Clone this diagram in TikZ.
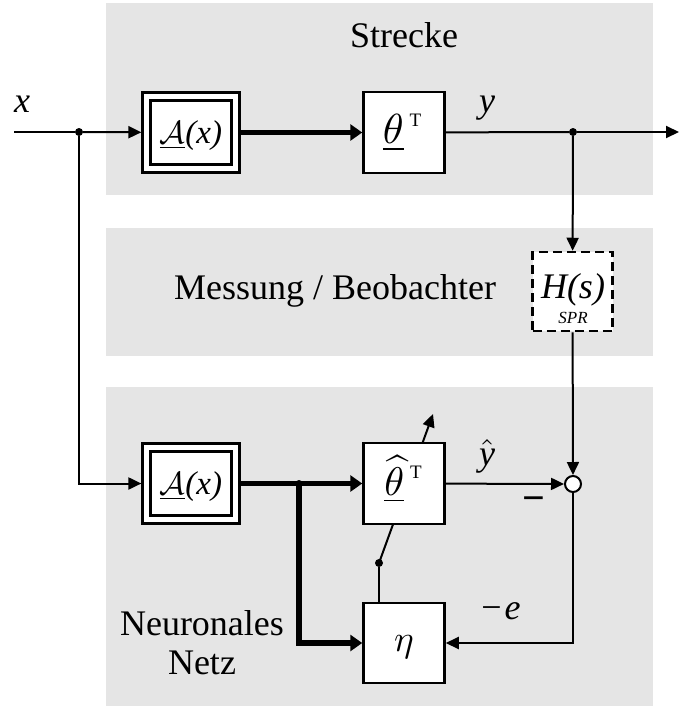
\documentclass[tikz,border=0pt]{standalone}
\usepackage{fontspec}
\setmainfont{Liberation Serif}
\usetikzlibrary{arrows.meta}
\definecolor{bandgray}{RGB}{229,229,229}
\newcommand{\fs}[1]{\fontsize{#1}{#1}\selectfont}
\newcommand{\mth}[2]{\scalebox{#1}{\fontsize{10}{10}\selectfont$#2$}}
\begin{document}
\begin{tikzpicture}[x=1pt,y=-1pt,
  band/.style={fill=bandgray, draw=none},
  blk/.style={draw, line width=2.5pt, fill=white, minimum width=81pt, minimum height=81pt, inner sep=0pt},
  outerblk/.style={draw, line width=2.2pt, fill=white, minimum width=97pt, minimum height=80pt, inner sep=0pt},
  innerblk/.style={draw, line width=3pt, fill=white, minimum width=81pt, minimum height=64pt, inner sep=0pt},
  dashblk/.style={draw, line width=2.5pt, dash pattern=on 9pt off 5pt, fill=white, minimum width=80pt, minimum height=79pt, inner sep=0pt},
  sig/.style={line width=2pt, -{Triangle[length=13pt,width=12pt]}},
  line/.style={line width=2pt},
  bus/.style={line width=5.5pt, -{Triangle[length=12pt,width=16pt]}},
  busline/.style={line width=5.5pt},
  lbl/.style={inner sep=0pt, font={\fs{36}}},
  txt/.style={inner sep=0pt},
  dot/.style={circle, fill=black, inner sep=0pt, minimum size=8pt},
  sumc/.style={circle, draw, line width=2pt, fill=white, inner sep=0pt, minimum size=16pt}
]
\useasboundingbox (0,0) rectangle (679,706);
% bands
\fill[band] (106,3) rectangle (653,195);
\fill[band] (106,228) rectangle (653,356);
\fill[band] (106,387) rectangle (653,706);

\node[lbl, anchor=base] (strecke) at (404,48) {Strecke};
\node[lbl, anchor=base] (messung) at (335,299) {Messung / Beobachter};
\node[inner sep=0pt, align=center, font={\fontsize{36}{39}\selectfont}] (nn) at (202,643) {Neuronales\\Netz};

% coordinates
\coordinate (xin) at (14,132);
\coordinate (yout) at (679,132);
\node[dot] (d1) at (79,132) {};
\node[dot] (d2) at (573,132) {};
\coordinate (c1) at (79,483.5);
\coordinate (j1) at (299,483.5);
\coordinate (c2) at (299,643);
\coordinate (c3) at (573,643);
\node[dot] (d3) at (379,563) {};
\coordinate (adapt) at (433,414);

% diagonal adaptation arrow (behind box)
\draw[sig] (d3.center) -- (adapt);

% blocks top
\node[outerblk] (A1) at (191,132.5) {};
\node[innerblk] (A1i) at (A1) {};
\node[txt, anchor=base] (A1t) at (191,143) {\fs{33}\mth{3.2}{\underline{\mathcal{A}}}\itshape(x)};
\node[blk] (T1) at (404,132.5) {};
\node[txt, anchor=base] (T1t) at (402,143) {\fs{42}\mth{4.2}{\underline{\theta}}\hspace{6pt}\raisebox{17pt}{\fs{19}T}};
\node[dashblk] (H) at (572.5,291.5) {};
\node[txt, anchor=base] (Ht) at (573,298) {\fs{36}\itshape H(s)};
\node[txt, anchor=base] (Hspr) at (573,323) {\fs{17}\itshape SPR};

% blocks bottom
\node[outerblk] (A2) at (191,483.5) {};
\node[innerblk] (A2i) at (A2) {};
\node[txt, anchor=base] (A2t) at (191,494) {\fs{33}\mth{3.2}{\underline{\mathcal{A}}}\itshape(x)};
\node[blk] (T2) at (404,483.5) {};
\node[txt, anchor=base] (T2t) at (403,495) {\fs{40}\mth{4.0}{\underline{\widehat{\theta}}}\hspace{6pt}\raisebox{17pt}{\fs{19}T}};
\node[blk, minimum height=80pt] (E) at (404,643) {};
\node[txt, anchor=base] (Et) at (404,651) {\mth{3.7}{\eta}};
\node[sumc] (S) at (573,484) {};

% labels
\node[lbl] (lx) at (22,104) {\itshape x};
\node[lbl] (ly) at (487,108) {\itshape y};
\node[txt] (lyh) at (487,456) {\mth{3.6}{\hat{\mbox{\itshape y}}}};
\node[txt] (minus) at (534,504) {\fs{40}\bfseries −};
\node[lbl] (le) at (501,611) {−\hspace{3pt}\itshape e};

% connections top
\draw[line] (xin) -- (d1);
\draw[sig] (d1) -- (A1);
\draw[bus] (A1) -- (T1);
\draw[line] (T1) -- (d2);
\draw[sig] (d2) -- (yout);
\draw[sig] (d2) -- (H);

% connections bottom
\draw[sig] (d1) -- (c1) -- (A2);
\draw[busline] (A2.east) -- (j1);
\draw[bus] (j1) -- (T2.west);
\draw[bus] (j1) -- (c2) -- (E.west);
\fill (j1) circle (3.5pt);
\draw[sig] (T2) -- (S);
\draw[sig] (H) -- (S);
\draw[sig] (S) -- (c3) -- (E);
\draw[line] (d3) -- (d3 |- E.north);
\end{tikzpicture}
\end{document}
